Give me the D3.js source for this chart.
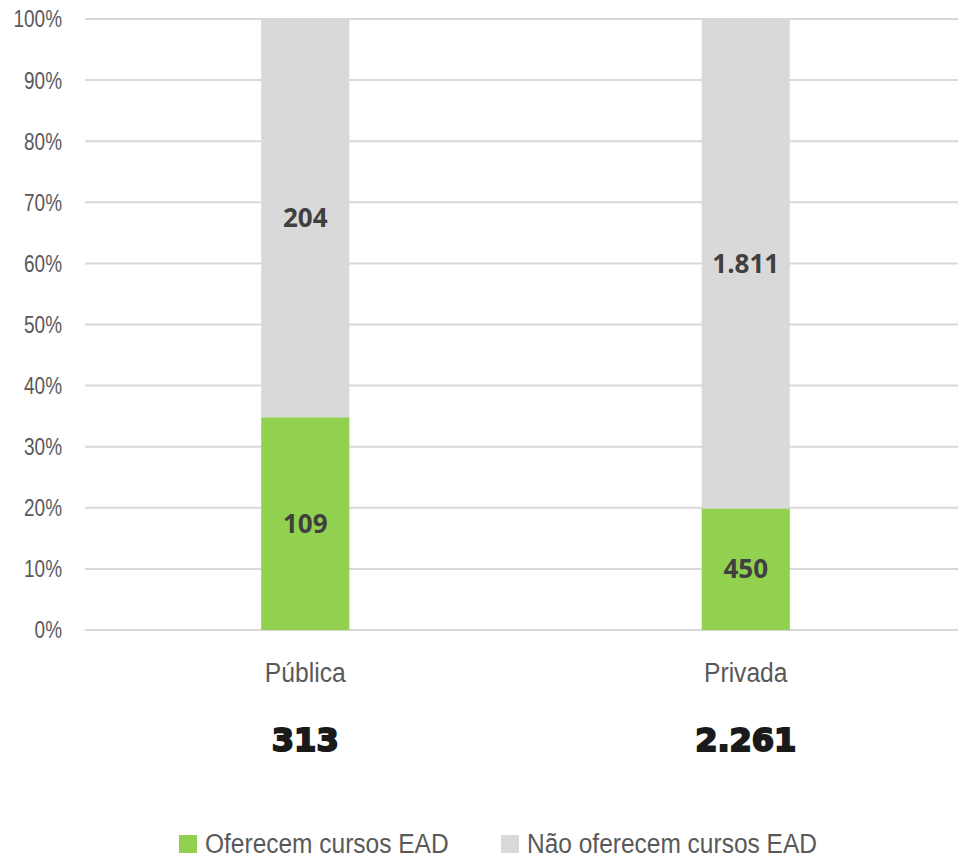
<!DOCTYPE html>
<html>
<head>
<meta charset="utf-8">
<script src="https://cdn.jsdelivr.net/npm/d3@7"></script>
<style>
  body { margin: 0; background: #fff; }
  svg text { font-family: "Liberation Sans", sans-serif; }
</style>
</head>
<body>
<div id="chart-div"></div>
<script>
const categories = ['Pública', 'Privada'];
const offerEad = [109, 450];
const noOfferEad = [204, 1811];
const seriesNames = ['Oferecem cursos EAD', 'Não oferecem cursos EAD'];
const yTicks = [0, 0.1, 0.2, 0.3, 0.4, 0.5, 0.6, 0.7, 0.8, 0.9, 1];

const width = 958, height = 859;
const colors = ['#92d050', '#d9d9d9'];
const fmt = d3.formatLocale({ decimal: ',', thousands: '.', grouping: [3], currency: ['R$', ''] }).format(',');

// no narrow font installed, so squeeze a normal one horizontally
const narrow = (x, y, sx) => `translate(${x},${y}) scale(${sx},1)`;

const rows = categories.map((c, i) => ({
  cat: c,
  offer: offerEad[i],
  noOffer: noOfferEad[i],
  total: offerEad[i] + noOfferEad[i]
}));

const svg = d3.select('#chart-div').append('svg')
  .attr('width', width)
  .attr('height', height);

const x = d3.scaleBand()
  .domain(categories)
  .range([85, 966])
  .paddingInner(0.8)
  .paddingOuter(0.4);

const y = d3.scaleLinear().domain([0, 1]).range([630, 19]);

// gridlines
svg.append('g')
  .selectAll('line')
  .data(yTicks)
  .enter()
  .append('line')
  .attr('x1', 85)
  .attr('x2', width)
  .attr('y1', d => y(d))
  .attr('y2', d => y(d))
  .attr('stroke', '#d9d9d9')
  .attr('stroke-width', 2);

// y tick labels
svg.append('g')
  .selectAll('text')
  .data(yTicks)
  .enter()
  .append('text')
  .attr('transform', d => narrow(62, y(d), 0.79))
  .attr('dy', '0.35em')
  .attr('text-anchor', 'end')
  .attr('font-size', 24)
  .attr('fill', '#595959')
  .text(d => d3.format('.0%')(d));

// stacked bars (100%)
const stack = d3.stack()
  .keys(['offer', 'noOffer'])
  .offset(d3.stackOffsetExpand);
const layers = stack(rows);

const gLayer = svg.append('g')
  .selectAll('g')
  .data(layers)
  .enter()
  .append('g')
  .attr('fill', (d, i) => colors[i]);

gLayer.selectAll('rect')
  .data(d => d)
  .enter()
  .append('rect')
  .attr('x', d => x(d.data.cat))
  .attr('width', x.bandwidth())
  .attr('y', d => y(d[1]))
  .attr('height', d => y(d[0]) - y(d[1]));

gLayer.selectAll('text')
  .data((d, i) => d.map(p => ({ p: p, key: layers[i].key })))
  .enter()
  .append('text')
  .attr('x', d => x(d.p.data.cat) + x.bandwidth() / 2)
  .attr('y', d => y((d.p[0] + d.p[1]) / 2))
  .attr('dy', '0.35em')
  .attr('text-anchor', 'middle')
  .attr('fill', '#404040')
  .attr('font-size', 26)
  .attr('font-weight', 'bold')
  .style('font-family', '"Open Sans", sans-serif')
  .text(d => fmt(d.p.data[d.key]));

// category labels
svg.append('g')
  .selectAll('text')
  .data(rows)
  .enter()
  .append('text')
  .attr('transform', d => narrow(x(d.cat) + x.bandwidth() / 2, 672, 0.88))
  .attr('dy', '0.35em')
  .attr('text-anchor', 'middle')
  .attr('font-size', 28)
  .attr('fill', '#595959')
  .text(d => d.cat);

// totals
svg.append('g')
  .selectAll('text')
  .data(rows)
  .enter()
  .append('text')
  .attr('x', d => x(d.cat) + x.bandwidth() / 2)
  .attr('y', 739)
  .attr('dy', '0.36em')
  .attr('text-anchor', 'middle')
  .attr('font-size', 32)
  .attr('font-weight', 'bold')
  .attr('fill', '#1a1a1a')
  .attr('stroke', '#1a1a1a')
  .attr('stroke-width', 2)
  .style('font-family', '"DejaVu Sans", sans-serif')
  .text(d => fmt(d.total));

// legend
const legendX = [179, 501];
const legend = svg.append('g')
  .selectAll('g')
  .data(seriesNames)
  .enter()
  .append('g')
  .attr('transform', (d, i) => `translate(${legendX[i]},843)`);

legend.append('rect')
  .attr('x', 0)
  .attr('y', -8)
  .attr('width', 18)
  .attr('height', 18)
  .attr('fill', (d, i) => colors[i]);

legend.append('text')
  .attr('transform', narrow(26, 0, 0.875))
  .attr('dy', '0.35em')
  .attr('font-size', 28)
  .attr('fill', '#595959')
  .text(d => d);
</script>
</body>
</html>
